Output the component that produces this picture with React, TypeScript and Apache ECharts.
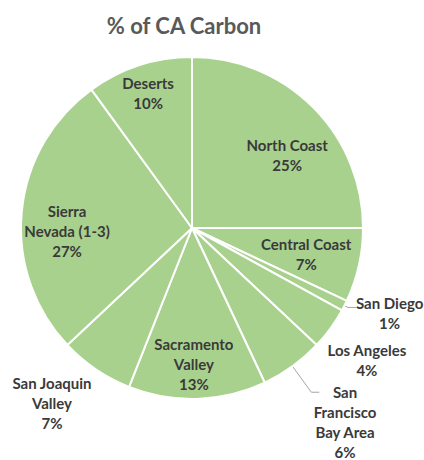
import React, { useEffect, useRef } from 'react';
import * as echarts from 'echarts';

const categories = [
  'North Coast',
  'Central Coast',
  'San Diego',
  'Los Angeles',
  'San Francisco Bay Area',
  'Sacramento Valley',
  'San Joaquin Valley',
  'Sierra Nevada (1-3)',
  'Deserts',
];
const values = [25, 7, 1, 4, 6, 13, 7, 27, 10];
const displayNames = [
  'North Coast',
  'Central Coast',
  'San Diego',
  'Los Angeles',
  'San\nFrancisco\nBay Area',
  'Sacramento\nValley',
  'San Joaquin\nValley',
  'Sierra\nNevada (1-3)',
  'Deserts',
];

// label placement config (distance from centre, angle shift in degrees, leader length)
const labelDistance = [120, 117, 215, 219, 247, 136, 224, 125, 142];
const labelAngleShift = [7.5, 0, -3.8, 1, -2.3, 1, 4.5, -7, 0];
const leaderLen = [0, 0, 4, 0, 32, 0, 0, 0, 0];

export default function App() {
  const ref = useRef<HTMLDivElement>(null);
  useEffect(() => {
    document.body.style.margin = '0';
    const chart = echarts.init(ref.current!, null, { renderer: 'svg' });
    const cx = 192, cy = 228, R = 171;
    const total = values.reduce((a, b) => a + b, 0);
    const mids: number[] = [];
    let acc = 0;
    values.forEach((v) => {
      mids.push(((acc + v / 2) / total) * 360);
      acc += v;
    });
    const pt = (deg: number, r: number) => {
      const a = (deg * Math.PI) / 180;
      return [cx + r * Math.sin(a), cy - r * Math.cos(a)];
    };
    chart.setOption({
      animation: false,
      title: {
        text: '% of CA Carbon',
        left: 179,
        top: 9,
        textAlign: 'center',
        textStyle: { fontFamily: 'Lato', fontWeight: 'bold', fontSize: 22, color: '#595959' },
      },
      series: [
        {
          type: 'pie',
          center: [cx, cy],
          radius: R,
          startAngle: 90,
          clockwise: true,
          avoidLabelOverlap: false,
          itemStyle: { color: '#a9d18e', borderColor: '#ffffff', borderWidth: 2 },
          label: {
            show: true,
            formatter: (p: any) => `${displayNames[p.dataIndex]}\n${p.value}%`,
            fontFamily: 'Lato',
            fontWeight: 'bold',
            fontSize: 15,
            lineHeight: 20,
            color: '#3a3a3a',
            overflow: 'none',
            align: 'center',
          },
          labelLine: { show: false, smooth: false, lineStyle: { color: '#a6a6a6', width: 1 } },
          emphasis: { disabled: true },
          data: categories.map((name, i) => ({
            name,
            value: values[i],
            label: { position: leaderLen[i] > 0 ? 'outside' : 'inside' },
            labelLine: { show: leaderLen[i] > 0 },
          })),
          labelLayout: (params: any) => {
            const i = params.dataIndex;
            const [x, y] = pt(mids[i] + labelAngleShift[i], labelDistance[i]);
            const res: any = { x, y, align: 'center', verticalAlign: 'middle' };
            if (leaderLen[i] > 0) {
              const p1 = pt(mids[i], R);
              const p2 = pt(mids[i], R + leaderLen[i]);
              const p3 = [p2[0] + 8, p2[1]];
              res.labelLinePoints = [p1, p2, p3];
            }
            return res;
          },
        },
      ],
    });
    return () => chart.dispose();
  }, []);
  return <div ref={ref} style={{ width: 424, height: 460 }} />;
}
